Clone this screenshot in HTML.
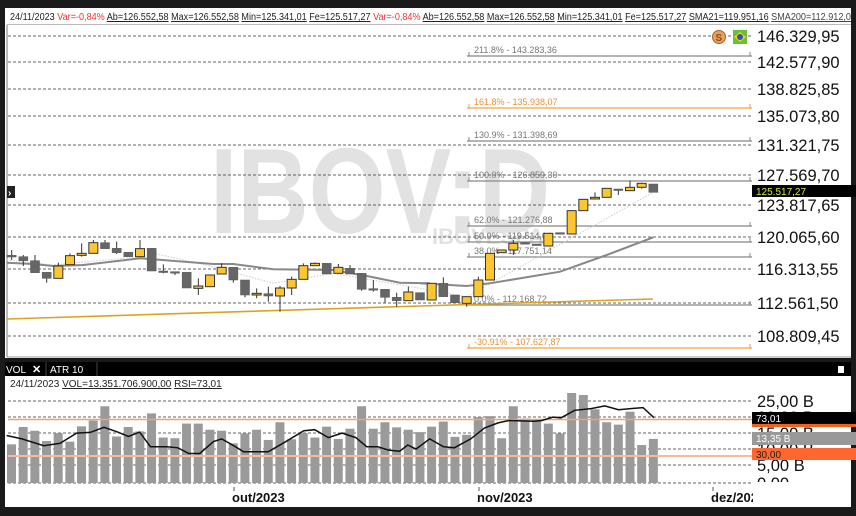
<!DOCTYPE html>
<html><head><meta charset="utf-8"><style>
body{margin:0;background:#1a1a1a;}
svg{display:block;font-family:"Liberation Sans",sans-serif;}
</style></head><body>
<svg id="s" width="856" height="516" viewBox="0 0 856 516" xmlns="http://www.w3.org/2000/svg">
<rect x="0" y="0" width="856" height="516" fill="#1a1a1a"/>
<rect x="5" y="8" width="846" height="350" fill="#fff"/>
<rect x="5" y="376" width="846" height="131" fill="#fff"/>
<rect x="5" y="362" width="846" height="14" fill="#000"/>
<line x1="7" y1="25" x2="7" y2="357" stroke="#777" stroke-width="1"/>
<line x1="7" y1="357" x2="851" y2="357" stroke="#999"/>
<line x1="7" y1="24.5" x2="851" y2="24.5" stroke="#bbb"/>
<text x="10" y="20" font-size="10" fill="#222" textLength="846" lengthAdjust="spacingAndGlyphs">24/11/2023 <tspan fill="#e33">Var=-0,84%</tspan> <tspan text-decoration="underline">Ab=126.552,58</tspan> <tspan text-decoration="underline">Max=126.552,58</tspan> <tspan text-decoration="underline">Min=125.341,01</tspan> <tspan text-decoration="underline">Fe=125.517,27</tspan> <tspan fill="#e33">Var=-0,84%</tspan> <tspan text-decoration="underline">Ab=126.552,58</tspan> <tspan text-decoration="underline">Max=126.552,58</tspan> <tspan text-decoration="underline">Min=125.341,01</tspan> <tspan text-decoration="underline">Fe=125.517,27</tspan> <tspan text-decoration="underline">SMA21=119.951,16</tspan> <tspan text-decoration="underline" fill="#444">SMA200=112.912,08</tspan></text>
<rect x="851" y="8" width="5" height="18" fill="#1a1a1a"/>
<text x="210" y="233" font-size="122" font-weight="bold" fill="#e2e2e2" textLength="340" lengthAdjust="spacingAndGlyphs">IBOV:D</text>
<text x="432" y="244" font-size="22" font-weight="bold" fill="#e2e2e2">IBOVESPA</text>
<g id="g"></g>
<rect x="7" y="186" width="8" height="12" fill="#222"/><text x="8" y="196" font-size="10" fill="#fff" font-weight="bold">›</text>
<circle cx="719" cy="37" r="6.5" fill="#e9a060" stroke="#a86030"/><text x="715.5" y="41" font-size="10" fill="#8a4a1a" font-weight="bold">S</text>
<rect x="733" y="30" width="14" height="14" fill="#6bbf3a"/><polygon points="740,32 746,37 740,42 734,37" fill="#f4d20a"/><circle cx="740" cy="37" r="3" fill="#2a5ab8"/>
<rect x="752" y="185" width="104" height="12" fill="#000"/><text x="756" y="195" font-size="10" fill="#d0e84a">125.517,27</text>
<text x="6" y="373" font-size="10" fill="#fff">VOL</text><text x="32" y="373" font-size="11" fill="#fff" font-weight="bold">✕</text><text x="50" y="373" font-size="10" fill="#fff">ATR 10</text>
<line x1="46" y1="362" x2="46" y2="376" stroke="#444"/><line x1="97" y1="362" x2="97" y2="376" stroke="#444"/>
<rect x="838" y="366" width="6" height="7" fill="#fff"/>
<text x="10" y="387" font-size="10" fill="#222">24/11/2023 <tspan text-decoration="underline">VOL=13.351.706.900,00</tspan> <tspan text-decoration="underline">RSI=73,01</tspan></text>
</svg>
<script>
const g=document.getElementById('g');let h='';
const pl=[[36,'146.329,95'],[62,'142.577,90'],[89,'138.825,85'],[116,'135.073,80'],[145,'131.321,75'],[175,'127.569,70'],[205,'123.817,65'],[237,'120.065,60'],[269,'116.313,55'],[303,'112.561,50'],[336,'108.809,45']];
for(const [y,t] of pl){h+=`<line x1="8" y1="${y}" x2="752" y2="${y}" stroke="#333" stroke-dasharray="3,2" stroke-width="0.8"/><text x="757" y="${y+6}" font-size="16.5" fill="#111">${t}</text>`;}
const fb=[[56,'211.8% - 143.283,36','#888'],[108,'161.8% - 135.938,07','#f5a040'],[141,'130.9% - 131.398,69','#888'],[181,'100.0% - 126.859,30','#888'],[226,'62.0% - 121.276,88','#888'],[242,'50.0% - 119.514,01','#888'],[257,'38.0% - 117.751,14','#888'],[305,'0.0% - 112.168,72','#888'],[348,'-30.91% - 107.627,87','#f5a040']];
for(const [y,t,c] of fb){h+=`<line x1="467" y1="${y}" x2="752" y2="${y}" stroke="${c}" stroke-width="1.2"/><line x1="469" y1="${y}" x2="469" y2="${y-4}" stroke="${c}"/><line x1="750" y1="${y}" x2="750" y2="${y-4}" stroke="${c}"/><text x="474" y="${y-3}" font-size="9" fill="${c=='#888'?'#777':'#e89030'}">${t}</text>`;}
function pts(a,ox,oy,sx,sy){return a.map(p=>((ox+p[0]/sx).toFixed(1))+','+((oy+p[1]/sy).toFixed(1))).join(' ');}
const dot=pts([[20,300],[160,315],[420,290],[470,282],[640,320],[820,370],[1000,340],[1290,390]],0,160,3,3)+' '+pts([[140,410],[700,97]],420,160,3,3);
h+=`<polyline points="${dot}" fill="none" stroke="#ccc" stroke-width="1" stroke-dasharray="1.5,1.5"/>`;
h+=`<polyline points="7,319 420,306 653,299" fill="none" stroke="#d9a520" stroke-width="1.6"/>`;
const sma=pts([[20,308],[100,312],[160,318],[250,315],[420,295],[640,312],[700,312],[820,328],[1000,330],[1100,348],[1200,368],[1290,370]],0,160,3,3)+' '+pts([[0,370],[140,378],[210,370],[420,335],[560,285],[700,232]],420,160,3,3);
h+=`<polyline points="${sma}" fill="none" stroke="#888" stroke-width="2"/>`;
const c2=[[35,286,291,270,300,0],[70,290,302,285,318,0],[105,302,338,285,338,0],[140,337,355,337,368,0],[175,318,355,308,355,1],[210,287,314,280,314,1],[245,280,286,250,290,1],[280,248,280,240,280,1],[315,248,266,240,266,0],[350,265,278,245,282,0],[385,277,290,277,290,0],[420,266,290,240,290,1],[455,265,333,265,333,0],[490,333,336,313,340,0],[525,335,337,335,345,0],[560,337,384,337,384,0],[595,378,385,355,405,1],[630,345,380,345,380,1],[665,322,342,310,342,1],[700,322,360,322,368,0],[735,360,405,360,412,0],[770,400,405,385,415,1],[805,401,408,380,425,0],[840,384,408,378,455,1],[875,358,384,350,405,1],[910,317,358,310,358,1],[945,310,317,307,317,1],[980,310,342,310,342,0],[1015,322,340,312,340,1],[1050,325,342,315,342,0],[1085,340,388,340,392,0],[1120,386,390,360,395,0],[1155,388,412,388,428,0],[1190,412,422,398,440,0],[1225,396,422,380,422,1]];
const c3=[[0,398,420,398,420,0],[35,370,420,370,420,1],[70,370,410,352,410,0],[105,405,428,405,428,0],[140,410,430,410,440,1],[175,360,410,350,410,1],[210,280,360,280,360,1],[245,270,278,270,278,1],[280,250,270,240,285,1],[315,248,252,248,252,0],[350,252,256,252,256,0],[385,220,258,220,258,1],[420,218,222,218,222,0],[455,152,222,150,222,1],[490,118,152,118,152,1],[525,112,117,97,117,1],[560,85,112,85,112,1],[595,87,91,87,105,0],[630,82,92,62,92,1],[665,70,82,68,86,1],[700,72,97,72,97,0]];
function cand(x,bt,bb,wt,wb,y){const col=y?'#fcc630':'#666';h+=`<line x1="${x}" y1="${wt}" x2="${x}" y2="${wb}" stroke="#333" stroke-width="1"/><rect x="${x-4.5}" y="${bt}" width="9" height="${Math.max(bb-bt,1.5)}" fill="${col}" stroke="${y?'#333':'#555'}" stroke-width="${y?1:0.5}"/>`;}
for(const c of c2)cand(c[0]/3,160+c[1]/3,160+c[2]/3,160+c[3]/3,160+c[4]/3,c[5]);
for(const c of c3)cand(420+c[0]/3,160+c[1]/3,160+c[2]/3,160+c[3]/3,160+c[4]/3,c[5]);
const vg=[[401,'25,00 B'],[417,'20,00 B'],[433,'15,00 B'],[449,'10,00 B'],[465,'5,00 B'],[483,'0,00']];
for(const [y,t] of vg){h+=`<line x1="8" y1="${y}" x2="752" y2="${y}" stroke="#333" stroke-dasharray="3,2" stroke-width="0.8"/><text x="757" y="${y+6}" font-size="16.5" fill="#111">${t}</text>`;}
h+=`<rect x="752" y="482" width="99" height="25" fill="#fff"/>`;
const vb=[248,197,208,238,215,240,195,178,136,225,197,210,157,228,230,187,187,205,208,245,216,205,235,183,233,215,228,196,232,202,136,202,183,198,205,212,196,181,226,220,168,165,230,136,172,175,187,216,97,103,145,183,190,152,250,232];
vb.forEach((t,i)=>{const x=11.5+i*11.67;const y=360+t/2.94;h+=`<rect x="${x-4.5}" y="${y}" width="9" height="${483-y}" fill="#9a9a9a"/>`;});
h+=`<line x1="8" y1="419.5" x2="752" y2="419.5" stroke="#f4a070" stroke-width="1.5"/><line x1="8" y1="456" x2="752" y2="456" stroke="#f9b9a0" stroke-width="2"/>`;
const rsi=[[12,222],[40,232],[80,252],[110,245],[140,215],[165,213],[190,198],[215,212],[235,225],[255,212],[275,255],[305,255],[325,258],[345,275],[365,275],[390,240],[405,232],[430,255],[445,270],[470,270],[490,270],[520,242],[555,208],[575,205],[600,228],[625,215],[650,228],[670,255],[690,255],[710,265],[730,268],[745,250],[760,262],[785,232],[810,255],[830,258],[860,232],[885,200],[910,185],[930,178],[975,180],[990,178],[1010,168],[1025,170],[1050,148],[1080,143],[1105,135],[1130,146],[1160,142],[1175,140],[1195,170]];
h+=`<polyline points="${pts(rsi,0,360,1.827,2.94)}" fill="none" stroke="#111" stroke-width="1.5"/>`;
h+=`<rect x="752" y="412" width="104" height="12" fill="#000"/><rect x="752" y="424" width="104" height="3" fill="#f06020"/><text x="756" y="422" font-size="10" fill="#fff">73,01</text>`;
h+=`<rect x="752" y="432" width="104" height="13" fill="#999"/><text x="756" y="442" font-size="10" fill="#fff">13,35 B</text>`;
h+=`<rect x="752" y="448" width="104" height="12" fill="#ff6630"/><text x="756" y="458" font-size="10" fill="#222">30,00</text>`;
for(const [x,t] of [[234,'out/2023'],[479,'nov/2023'],[713,'dez/202']]){h+=`<line x1="${x}" y1="487" x2="${x}" y2="491" stroke="#555"/><text x="${x-2}" y="502" font-size="13" font-weight="bold" fill="#111">${t}</text>`;}
h+=`<rect x="753" y="488" width="98" height="19" fill="#fff"/>`;
g.innerHTML=h;
</script>
</body></html>
